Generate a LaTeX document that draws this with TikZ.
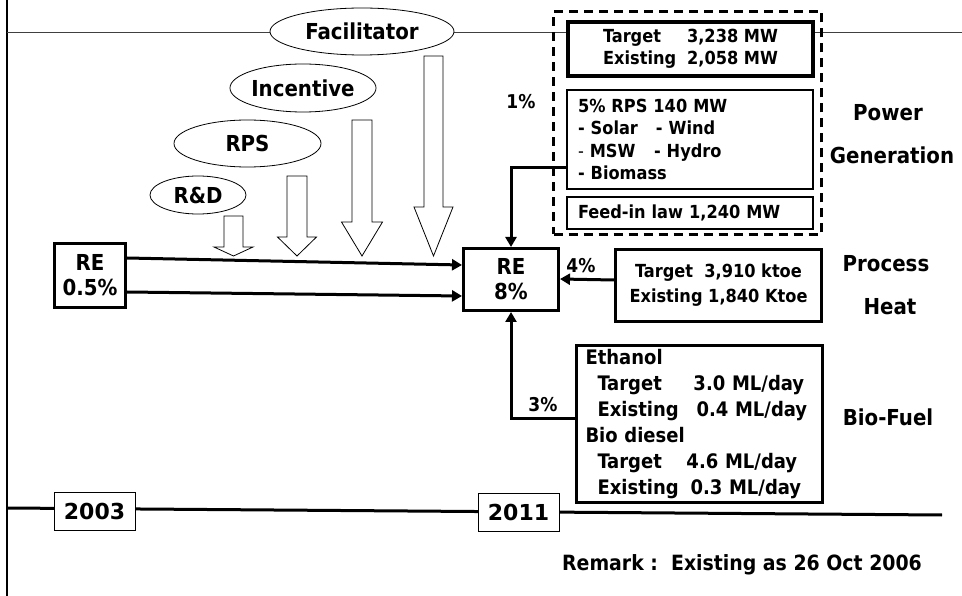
\documentclass[tikz,border=0pt]{standalone}
\usepackage{fontspec}
\setmainfont{DejaVu Sans Condensed}
\newfontfamily\yearfont{DejaVu Sans}
\usetikzlibrary{shapes.geometric,arrows.meta,calc}
\begin{document}
\begin{tikzpicture}[x=1pt,y=-1pt,font=\bfseries,
  box/.style={draw,line width=#1,fill=white,inner sep=0pt,rectangle},
  oval/.style={draw,ellipse,line width=0.8pt,fill=white,inner sep=0pt,font=\fontsize{22}{24}\selectfont\bfseries},
  blockarrow/.style={draw,line width=0.8pt,fill=white,line join=miter},
  conn/.style={line width=3pt,-{Triangle[length=10pt,width=11pt]}},
  lbl/.style={inner sep=0pt,font=\fontsize{22}{26}\selectfont\bfseries},
  pct/.style={inner sep=0pt,font=\fontsize{19}{21}\selectfont\bfseries},
  txt18/.style={font=\fontsize{18}{22.5}\selectfont\bfseries,align=left},
  rebox/.style={box=3pt,font=\fontsize{22}{25}\selectfont\bfseries,align=center},
  yearbox/.style={draw,line width=0.8pt,fill=white,inner sep=0pt,minimum width=81pt,minimum height=38pt,font=\yearfont\fontsize{22}{24}\selectfont\bfseries}]
\useasboundingbox (0,0) rectangle (962,596);
% frame lines
\draw[line width=2.2pt] (7,0) -- (7,596);
\draw[line width=0.8pt,black!75] (7,32) -- (962,32);
\draw[line width=3pt] (7,508) -- (942,515);
% ellipses
\node[oval,minimum width=184pt,minimum height=47pt] (fac) at (362,31.5) {Facilitator};
\node[oval,minimum width=146pt,minimum height=48pt] (inc) at (303,88) {Incentive};
\node[oval,minimum width=147pt,minimum height=47pt] (rpse) at (247.5,143.5) {RPS};
\node[oval,minimum width=96pt,minimum height=38pt] (rd) at (198,195) {R\&D};
% block arrows
\foreach \cx/\ya/\yb/\sw/\hw in {233.5/216/247/9.5/19.5, 297/176/237/10/19.5, 362/120/222/10/20.5, 433.5/56/207/9.5/19.5}
  \draw[blockarrow] (\cx-\sw,\ya) -- (\cx+\sw,\ya) -- (\cx+\sw,\yb) -- (\cx+\hw,\yb) -- (\cx,256) -- (\cx-\hw,\yb) -- (\cx-\sw,\yb) -- cycle;
% RE boxes
\node[rebox,minimum width=71pt,minimum height=64pt] (re05) at (90,275.5) {RE\\0.5\%};
\node[rebox,minimum width=95pt,minimum height=62pt] (re8) at (511,279.5) {RE\\8\%};
% power generation group
\node[draw,line width=3pt,dash pattern=on 9pt off 6pt,minimum width=268pt,minimum height=223pt,inner sep=0pt] (pg) at (687.5,123) {};
\node[box=3.5pt,minimum width=245pt,minimum height=54pt,txt18] (target) at (690.5,49)
  {\makebox[84pt][l]{Target}3,238 MW\\\makebox[84pt][l]{Existing}2,058 MW};
\node[box=2.5pt,minimum width=246pt,minimum height=99pt,txt18,text width=224pt] (rps) at (690,139.5)
  {5\% RPS 140 MW\\\makebox[78pt][l]{- Solar}- Wind\\\makebox[76pt][l]{\mdseries-\bfseries\ MSW}- Hydro\\- Biomass};
\node[box=2.5pt,minimum width=246pt,minimum height=32pt,txt18,text width=224pt] (feed) at (690,213) {Feed-in law 1,240 MW};
% process heat
\node[box=3pt,minimum width=206pt,minimum height=72pt,font=\fontsize{18}{25}\selectfont\bfseries,align=center] (heat) at (718.5,285.5)
  {Target\ \ 3,910 ktoe\\Existing 1,840 Ktoe};
% bio fuel
\node[box=3pt,minimum width=246pt,minimum height=157pt,font=\fontsize{20}{26}\selectfont\bfseries,align=left,text width=228pt] (bio) at (699.5,424)
  {Ethanol\\
   \hspace*{12pt}\makebox[96pt][l]{Target}3.0 ML/day\\
   \hspace*{12pt}\makebox[99pt][l]{Existing}0.4 ML/day\\
   Bio diesel\\
   \hspace*{12pt}\makebox[89pt][l]{Target}4.6 ML/day\\
   \hspace*{12pt}\makebox[93pt][l]{Existing}0.3 ML/day};
% connectors
\draw[conn] ([yshift=17.5pt]re05.east) -- ([yshift=14.5pt]re8.west);
\draw[conn] ([yshift=-16.5pt]re05.east) -- ([yshift=-16.5pt]re8.west);
\draw[conn] ([yshift=-28.5pt]rps.west) -| (re8.north);
\draw[conn] ([yshift=5.5pt]heat.west) -- ([yshift=0.5pt]re8.east);
\draw[conn] ([yshift=6pt]bio.west) -| (re8.south);
% percentages
\node[pct] (p1) at (521,102) {1\%};
\node[pct] (p4) at (581,266) {4\%};
\node[pct] (p3) at (543,405) {3\%};
% side labels
\node[lbl] (power) at (888,113) {Power};
\node[lbl] (gen) at (892,155) {Generation};
\node[lbl] (proc) at (886,264) {Process};
\node[lbl] (heatl) at (890,307) {Heat};
\node[lbl] (biol) at (888,417) {Bio-Fuel};
% years
\node[yearbox] (y2003) at (94.5,511) {2003};
\node[yearbox] (y2011) at (518.5,512) {2011};
% remark
\node[inner sep=0pt,font=\fontsize{21}{24}\selectfont\bfseries] (remark) at (742,565) {Remark :\ \ Existing as 26 Oct 2006};
\end{tikzpicture}
\end{document}
